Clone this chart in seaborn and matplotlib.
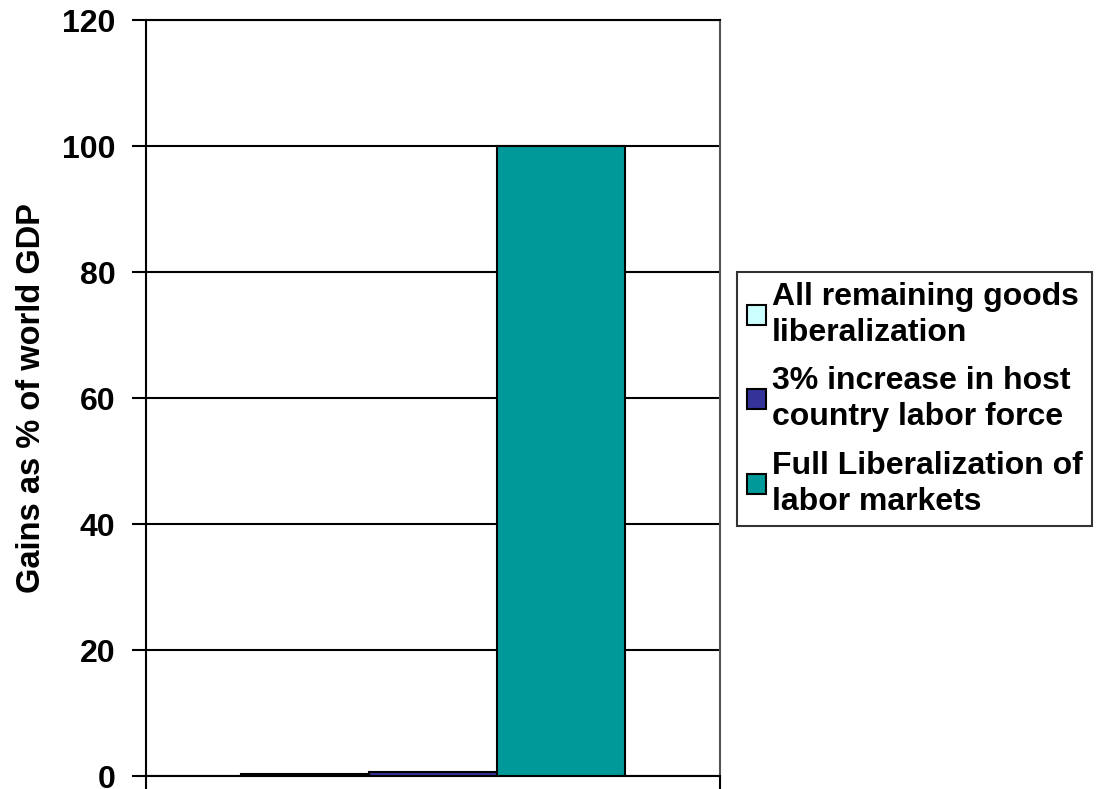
import matplotlib
matplotlib.use("Agg")
import matplotlib.pyplot as plt
import seaborn as sns
import pandas as pd

# Data
series = ["All remaining goods\nliberalization",
          "3% increase in host\ncountry labor force",
          "Full Liberalization of\nlabor markets"]
values = [0.3, 0.6, 100.0]
colors = ["#CCFFFF", "#333399", "#009999"]
y_ticks = [0, 20, 40, 60, 80, 100, 120]

sns.set_theme(style="white")
plt.rcParams['font.family'] = ['Liberation Sans', 'DejaVu Sans']
plt.rcParams['font.weight'] = 'bold'
plt.rcParams['text.color'] = 'black'
plt.rcParams['axes.labelcolor'] = 'black'
plt.rcParams['xtick.color'] = 'black'
plt.rcParams['ytick.color'] = 'black'

df = pd.DataFrame({"cat": ["g"] * 3, "series": series, "value": values})

fig = plt.figure(figsize=(10.99, 7.89), dpi=100)
ax = fig.add_axes([146 / 1099, 1 - 776 / 789, (720 - 146) / 1099, (776 - 20) / 789])

sns.barplot(data=df, x="cat", y="value", hue="series", hue_order=series,
            palette=colors, saturation=1, width=0.67, edgecolor="black", linewidth=1.5,
            ax=ax, zorder=3, legend=True)

ax.set_ylim(0, 120)
ax.set_xlim(-0.5, 0.5)
ax.set_yticks(y_ticks)
ax.set_yticklabels([str(t) for t in y_ticks], fontsize=23, fontweight='bold', color='black')
ax.set_xticks([-0.5, 0.5])
ax.set_xticklabels(["", ""])
ax.tick_params(axis='x', direction='out', length=12, width=1.5, color='black', bottom=True)
ax.tick_params(axis='y', direction='out', length=10, width=1.5, color='black', left=True, pad=12)
ax.set_xlabel("")
ax.set_ylabel("Gains as % of world GDP", fontsize=23.5, fontweight='bold', color='black', labelpad=11)
ax.yaxis.grid(True, color='black', linewidth=1.5, zorder=0)
ax.set_axisbelow(True)
for side, sp in ax.spines.items():
    sp.set_visible(True)
    sp.set_color('black')
    sp.set_linewidth(1.5)
ax.spines['right'].set_color('#555555')

ax.get_legend().remove()
handles = [matplotlib.patches.Patch(facecolor=c, edgecolor='black', linewidth=1.5) for c in colors]
leg = fig.legend(handles, series, loc='upper left',
                 bbox_to_anchor=(737 / 1099, 1 - 272 / 789),
                 prop={'size': 23, 'weight': 'bold'},
                 frameon=True, fancybox=False, edgecolor='black',
                 handlelength=0.6, handleheight=0.6, handletextpad=0.2,
                 labelspacing=0.58, borderpad=0.3, borderaxespad=0)
leg.get_frame().set_linewidth(1.5)
for t in leg.get_texts():
    t.set_linespacing(1.26)
    t.set_color('black')

fig.savefig("out.png", dpi=100)
